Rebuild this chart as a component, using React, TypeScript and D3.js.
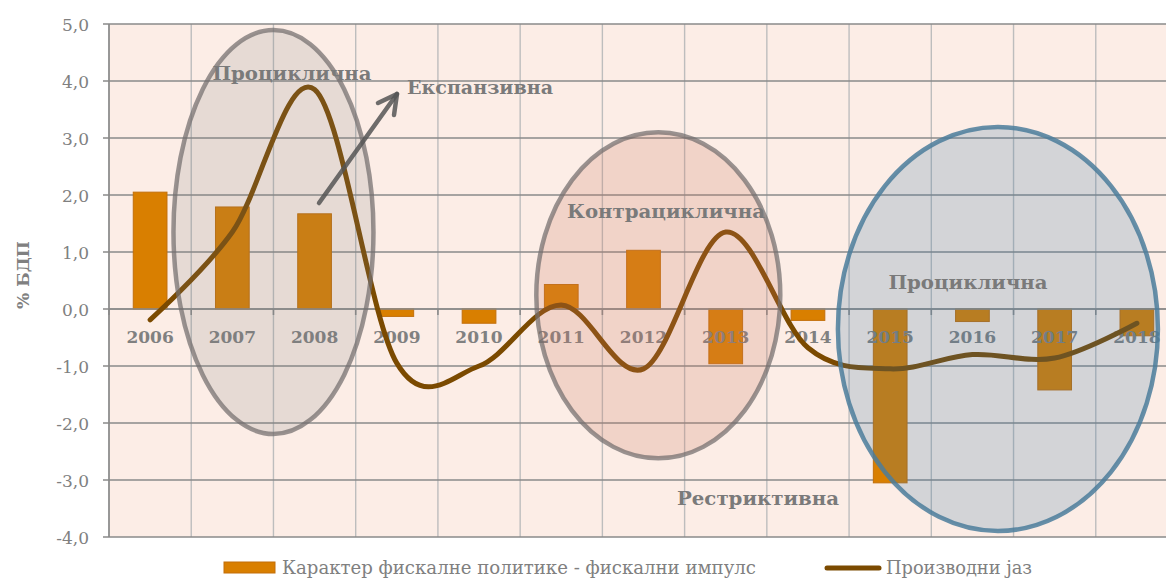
import React from "react";
import * as d3 from "d3";

// Fiscal policy character vs. output gap, % of GDP
const years = ["2006", "2007", "2008", "2009", "2010", "2011", "2012", "2013", "2014", "2015", "2016", "2017", "2018"];
const fiscalImpulse = [2.05, 1.79, 1.67, -0.13, -0.25, 0.43, 1.03, -0.96, -0.2, -3.05, -0.22, -1.42, -0.47];
const outputGap = [-0.19, 1.35, 3.85, -0.95, -1.0, 0.07, -1.05, 1.35, -0.68, -1.05, -0.8, -0.86, -0.25];
const yTicks = [5, 4, 3, 2, 1, 0, -1, -2, -3, -4];

const seriesNames = ["Карактер фискалне политике - фискални импулс", "Производни јаз"];
const yTitle = "% БДП";

const W = 1166;
const H = 578;
const plot = { left: 109, top: 24, right: 1178, bottom: 537 };

const serif = "'DejaVu Serif', 'Liberation Serif', serif";
const serifCond = "'DejaVu Serif Condensed', 'DejaVu Serif', serif";

export default function App() {
  const x = d3.scaleBand<string>().domain(years).range([plot.left, plot.right]).padding(0);
  const y = d3.scaleLinear().domain([-4, 5]).range([plot.bottom, plot.top]);
  const step = x.step();
  const mid = (i: number) => (x(years[0]) as number) + step * (i + 0.5);
  const barW = step * 0.41;
  const fmt = (v: number) => d3.format(".1f")(v).replace(".", ",").replace("\u2212", "-");

  const gapLine = d3
    .line<number>()
    .x((_, i) => mid(i))
    .y((d) => y(d))
    .curve(d3.curveCardinal.tension(0));

  const boundaries = d3.range(years.length + 1).map((i) => plot.left + i * step);

  // annotation ellipses, positioned in category / value units
  const ellipses = [
    { ci: 1.5, v: 1.35, rx: 100, ry: 202, fill: "rgba(127,127,127,0.17)", stroke: "rgba(115,110,110,0.72)" },
    { ci: 6.18, v: 0.24, rx: 122, ry: 163, fill: "rgba(205,120,95,0.22)", stroke: "rgba(115,110,110,0.72)" },
    { ci: 10.31, v: -0.35, rx: 160, ry: 202, fill: "rgba(60,120,160,0.21)", stroke: "rgba(75,125,155,0.85)" },
  ];

  const notes = [
    { text: "Проциклична", x: 292, yb: 80, len: 159 },
    { text: "Експанзивна", x: 480, yb: 94, len: 146 },
    { text: "Контрациклична", x: 666, yb: 218, len: 198 },
    { text: "Проциклична", x: 968, yb: 289, len: 159 },
    { text: "Рестриктивна", x: 758, yb: 505, len: 162 },
  ];

  return (
    <svg
      width={W}
      height={H}
      style={{ position: "absolute", left: 0, top: 0, background: "#fff" }}
    >
      {/* plot background */}
      <rect x={plot.left} y={plot.top} width={plot.right - plot.left} height={plot.bottom - plot.top} fill="#FCEDE6" />

      {/* vertical gridlines */}
      {boundaries.map((bx, i) => (
        <line key={"vg" + i} x1={bx} x2={bx} y1={plot.top} y2={plot.bottom} stroke="#BDBDBD" strokeWidth={1.4} />
      ))}
      {/* horizontal gridlines */}
      {yTicks.map((t) => (
        <line key={"hg" + t} x1={plot.left - 6} x2={plot.right} y1={y(t)} y2={y(t)} stroke="#8A8A8A" strokeWidth={1.4} />
      ))}

      {/* y axis */}
      <line x1={plot.left} x2={plot.left} y1={plot.top} y2={plot.bottom} stroke="#8A8A8A" strokeWidth={1.6} />
      {yTicks.map((t) => (
        <text key={"yt" + t} x={89} y={y(t) + 7} textAnchor="end" fontFamily={serif} fontSize={17} fill="#808080">
          {fmt(t)}
        </text>
      ))}
      <text
        transform={`translate(29, 275) rotate(-90)`}
        textAnchor="middle"
        fontFamily={serif}
        fontWeight="bold"
        fontSize={17}
        fill="#808080"
      >
        {yTitle}
      </text>

      {/* bars */}
      {fiscalImpulse.map((v, i) => (
        <rect
          key={"b" + i}
          x={mid(i) - barW / 2}
          y={Math.min(y(v), y(0))}
          width={barW}
          height={Math.abs(y(v) - y(0))}
          fill="#D97F00"
          stroke="#C26F0A"
          strokeWidth={1}
        />
      ))}

      {/* category axis at zero */}
      <line x1={plot.left} x2={plot.right} y1={y(0)} y2={y(0)} stroke="#8A8A8A" strokeWidth={1.6} />
      {boundaries.map((bx, i) => (
        <line key={"ct" + i} x1={bx} x2={bx} y1={y(0)} y2={y(0) + 6} stroke="#8A8A8A" strokeWidth={1.6} />
      ))}
      {years.map((yr, i) => (
        <text key={"yl" + yr} x={mid(i)} y={y(0) + 34} textAnchor="middle" fontFamily={serif} fontWeight="bold" fontSize={17} fill="#808080">
          {yr}
        </text>
      ))}

      {/* output gap */}
      <path d={gapLine(outputGap) || ""} fill="none" stroke="#7B4A00" strokeWidth={5} strokeLinecap="round" strokeLinejoin="round" />

      {/* ellipses */}
      {ellipses.map((e, i) => (
        <ellipse
          key={"e" + i}
          cx={mid(e.ci)}
          cy={y(e.v)}
          rx={e.rx}
          ry={e.ry}
          fill={e.fill}
          stroke={e.stroke}
          strokeWidth={4.5}
        />
      ))}

      {/* arrow */}
      <g stroke="rgba(85,85,85,0.85)" strokeWidth={4.5} strokeLinecap="round" fill="none">
        <line x1={319} y1={203} x2={397} y2={94} />
        <polyline points="378,103 397,94 394,115" strokeLinejoin="round" />
      </g>

      {/* annotations */}
      {notes.map((n, i) => (
        <text
          key={"n" + i}
          x={n.x}
          y={n.yb}
          textAnchor="middle"
          fontFamily={serif}
          fontWeight="bold"
          fontSize={19}
          fill="#7A7A7A"
          textLength={n.len}
          lengthAdjust="spacingAndGlyphs"
        >
          {n.text}
        </text>
      ))}

      {/* legend */}
      <rect x={224} y={562} width={51} height={11} fill="#D97F00" stroke="#C26F0A" strokeWidth={1} />
      <text x={282} y={574} fontFamily={serifCond} fontSize={18} fill="#808080" textLength={474} lengthAdjust="spacingAndGlyphs">
        {seriesNames[0]}
      </text>
      <line x1={827} x2={879} y1={568} y2={568} stroke="#7B4A00" strokeWidth={5} strokeLinecap="round" />
      <text x={886} y={574} fontFamily={serifCond} fontSize={18} fill="#808080" textLength={146} lengthAdjust="spacingAndGlyphs">
        {seriesNames[1]}
      </text>
    </svg>
  );
}
